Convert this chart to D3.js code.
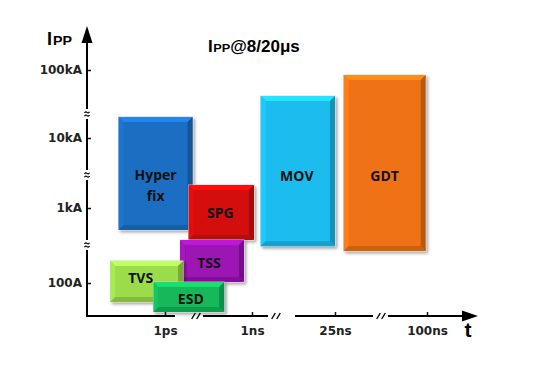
<!DOCTYPE html>
<html lang="en">

<head>
    <meta charset="UTF-8">
    <script src="https://cdn.jsdelivr.net/npm/d3@7/dist/d3.min.js"></script>
    <title>Ipp vs t</title>
    <style>
        body {
            margin: 0;
            background: #fff;
        }

        .tick text {
            font-family: "DejaVu Sans", sans-serif;
            font-weight: bold;
            font-size: 12px;
            fill: #222;
        }

        .tick line {
            stroke: #111;
            stroke-width: 1.5px;
        }

        .box-label {
            font-family: "Open Sans", sans-serif;
            font-weight: bold;
            font-size: 14px;
            fill: #111;
            text-anchor: middle;
        }

        .bold-title {
            font-family: "Liberation Sans", Arial, sans-serif;
            font-weight: bold;
            fill: #000;
        }
    </style>
</head>

<body>
    <svg id="chart" width="535" height="368"></svg>

    <script>
        // Devices: time span in ps, peak current span in A
        const devices = ["Hyper fix", "SPG", "TSS", "TVS", "ESD", "MOV", "GDT"];
        const tStart = [0.025, 6.5, 3.3, 0.013, 0.4, 1400, 28500];
        const tEnd = [9, 1080, 530, 4.2, 110, 25000, 98000];
        const ippLow = [510, 375, 103, 56, 41, 310, 267];
        const ippHigh = [20400, 2130, 375, 197, 103, 41500, 84400];
        const colors = ["#1c6ec2", "#d40d0d", "#9c12b4", "#9bdc4b", "#12b85a", "#1cbcee", "#ef7314"];

        // Axis ticks
        const xTicks = [1, 1000, 25000, 100000];
        const xTickLabels = ["1ps", "1ns", "25ns", "100ns"];
        const yTicks = [100, 1000, 10000, 100000];
        const yTickLabels = ["100A", "1kA", "10kA", "100kA"];

        // Layout
        const originX = 87, originY = 316;
        const svg = d3.select("#chart");

        // broken axes -> piecewise log scales
        const x = d3.scaleLog().domain(xTicks).range([165, 252, 335, 427]);
        const y = d3.scaleLog().domain(yTicks).range([283, 208, 138, 70]);

        // drop shadow for the boxes
        const defs = svg.append("defs");
        const shadow = defs.append("filter").attr("id", "shadow")
            .attr("x", "-10%").attr("y", "-10%").attr("width", "130%").attr("height", "130%");
        shadow.append("feDropShadow")
            .attr("dx", 2).attr("dy", 2).attr("stdDeviation", 1.5)
            .attr("flood-color", "#000").attr("flood-opacity", 0.35);

        // label nudges (px) relative to the box centre
        const labelShift = {
            "Hyper fix": [0, 12], "SPG": [-1, 0], "TSS": [-3, 2], "TVS": [-6, -3],
            "ESD": [2, 2], "MOV": [-1, 5], "GDT": [0, 13]
        };

        // Beveled box like the office "bevel" shape
        const bevelBox = (g, x0, y0, x1, y1, color) => {
            const c = d3.color(color);
            const b = 5;
            const poly = (pts, fill) => g.append("polygon")
                .attr("points", pts.map(p => p.join(",")).join(" "))
                .attr("fill", fill);
            g.append("rect")
                .attr("x", x0).attr("y", y0)
                .attr("width", x1 - x0).attr("height", y1 - y0)
                .attr("fill", c)
                .attr("stroke", "#d8d8d8").attr("stroke-width", 0.8);
            poly([[x0, y0], [x1, y0], [x1 - b, y0 + b], [x0 + b, y0 + b]], c.brighter(0.55));
            poly([[x0, y0], [x0 + b, y0 + b], [x0 + b, y1 - b], [x0, y1]], c.brighter(0.2));
            poly([[x1, y0], [x1, y1], [x1 - b, y1 - b], [x1 - b, y0 + b]], c.darker(0.75));
            poly([[x0, y1], [x1, y1], [x1 - b, y1 - b], [x0 + b, y1 - b]], c.darker(0.45));
        };

        devices.forEach((name, i) => {
            const x0 = x(tStart[i]), x1 = x(tEnd[i]);
            const y0 = y(ippHigh[i]), y1 = y(ippLow[i]);
            const g = svg.append("g").attr("filter", "url(#shadow)");
            bevelBox(g, x0, y0, x1, y1, colors[i]);

            const [dx, dy] = labelShift[name];
            const cx = (x0 + x1) / 2 + dx, cy = (y0 + y1) / 2 + dy;
            const lines = name.split(" ");
            const lineH = 21;
            lines.forEach((t, k) => {
                svg.append("text").attr("class", "box-label")
                    .attr("x", cx)
                    .attr("y", cy + (k - (lines.length - 1) / 2) * lineH)
                    .attr("dy", "0.36em")
                    .text(t);
            });
        });

        // Y axis
        const yAxis = d3.axisLeft(y)
            .tickValues(yTicks)
            .tickFormat((d, i) => yTickLabels[i])
            .tickSizeInner(-4).tickSizeOuter(0).tickPadding(5);
        const gy = svg.append("g").attr("transform", `translate(${originX},0)`).call(yAxis);
        gy.select(".domain").remove();

        // X axis
        const xAxis = d3.axisBottom(x)
            .tickValues(xTicks)
            .tickFormat((d, i) => xTickLabels[i])
            .tickSizeInner(-4).tickSizeOuter(0).tickPadding(10);
        const gx = svg.append("g").attr("transform", `translate(0,${originY})`).call(xAxis);
        gx.select(".domain").remove();

        // axis lines with arrows
        svg.append("line")
            .attr("x1", originX).attr("y1", originY + 1)
            .attr("x2", originX).attr("y2", 40)
            .attr("stroke", "#000").attr("stroke-width", 2);
        svg.append("path")
            .attr("d", `M${originX},26 L${originX - 5.5},43 L${originX + 5.5},43 Z`)
            .attr("fill", "#000");

        // x axis drawn as segments because of the breaks
        const xSegments = [[originX - 1, 175], [203, 268], [295, 373], [388, 464]];
        xSegments.forEach(s => {
            svg.append("line")
                .attr("x1", s[0]).attr("x2", s[1])
                .attr("y1", originY).attr("y2", originY)
                .attr("stroke", "#000").attr("stroke-width", 2);
        });
        svg.append("path")
            .attr("d", `M478,${originY} L462,${originY - 5.5} L462,${originY + 5.5} Z`)
            .attr("fill", "#000");

        // x break marks "//"
        [196, 276, 381].forEach(c => {
            [-2.5, 2.5].forEach(o => {
                svg.append("line")
                    .attr("x1", c + o - 1.8).attr("y1", originY + 3)
                    .attr("x2", c + o + 1.8).attr("y2", originY - 3)
                    .attr("stroke", "#000").attr("stroke-width", 1.4);
            });
        });

        // y break marks (gap + two waves)
        [114, 175, 245].forEach(c => {
            svg.append("rect")
                .attr("x", originX - 4).attr("y", c - 5)
                .attr("width", 8).attr("height", 10)
                .attr("fill", "#fff");
            [-1.6, 1.6].forEach(o => {
                svg.append("path")
                    .attr("d", `M${originX - 2.5},${c + o + 0.6} q1.2,-2 2.5,-0.6 t2.5,-0.6`)
                    .attr("fill", "none").attr("stroke", "#000").attr("stroke-width", 1.2);
            });
        });

        // axis names
        const yName = svg.append("text").attr("class", "bold-title")
            .attr("x", 47).attr("y", 45);
        yName.append("tspan").attr("font-size", 18).text("I");
        yName.append("tspan").attr("font-size", 12).attr("dx", 1)
            .attr("textLength", 19).attr("lengthAdjust", "spacingAndGlyphs").text("PP");

        svg.append("text").attr("class", "bold-title")
            .attr("x", 468).attr("y", 337)
            .attr("text-anchor", "middle")
            .attr("font-size", 21)
            .text("t");

        // title
        const title = svg.append("text").attr("class", "bold-title")
            .attr("x", 208).attr("y", 52);
        title.append("tspan").attr("font-size", 17).text("I");
        title.append("tspan").attr("font-size", 11).attr("dx", 0.5)
            .attr("textLength", 17).attr("lengthAdjust", "spacingAndGlyphs").text("PP");
        title.append("tspan").attr("font-size", 17).text("@8/20μs");
    </script>
</body>

</html>
